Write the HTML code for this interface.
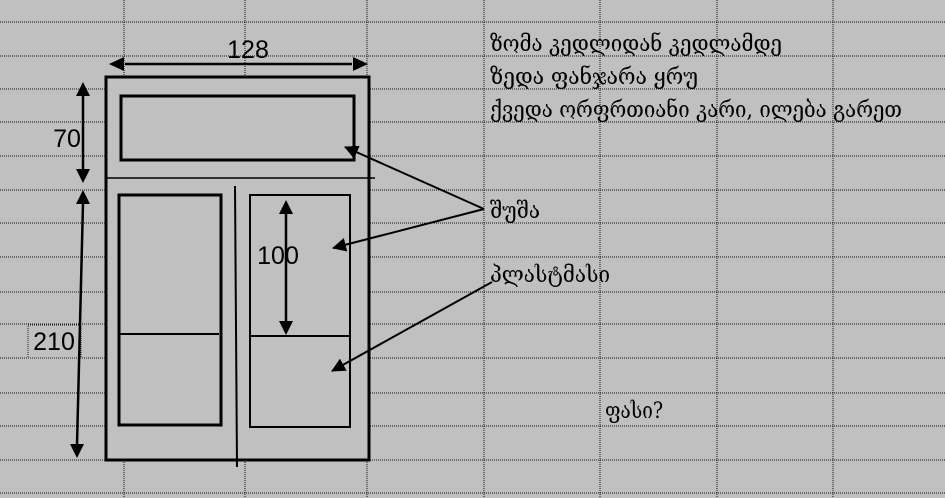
<!DOCTYPE html>
<html><head><meta charset="utf-8"><style>
html,body{margin:0;padding:0;background:#c0c0c0;}
svg{display:block;}
text{font-family:"Liberation Sans","DejaVu Sans",sans-serif;fill:#000;}
.g{font-family:"DejaVu Serif","DejaVu Sans",serif;font-size:22px;}
</style></head><body>
<svg width="945" height="498" viewBox="0 0 945 498" xmlns="http://www.w3.org/2000/svg">
<defs>
<marker id="b" markerWidth="14" markerHeight="14" refX="13" refY="7" orient="auto" markerUnits="userSpaceOnUse" viewBox="0 0 14 14">
<path d="M0,0 L14,7 L0,14 z" fill="#000"/></marker>
</defs>
<rect width="945" height="498" fill="#c0c0c0"/>
<g stroke="#111" stroke-width="1" stroke-dasharray="1,1">
<line x1="0" y1="22" x2="945" y2="22"/>
<line x1="0" y1="56" x2="945" y2="56"/>
<line x1="0" y1="89" x2="945" y2="89"/>
<line x1="0" y1="122" x2="945" y2="122"/>
<line x1="0" y1="156" x2="945" y2="156"/>
<line x1="0" y1="190" x2="945" y2="190"/>
<line x1="0" y1="223" x2="945" y2="223"/>
<line x1="0" y1="257" x2="945" y2="257"/>
<line x1="0" y1="292" x2="945" y2="292"/>
<line x1="0" y1="324" x2="945" y2="324"/>
<line x1="0" y1="358" x2="945" y2="358"/>
<line x1="0" y1="393" x2="945" y2="393"/>
<line x1="0" y1="426" x2="945" y2="426"/>
<line x1="0" y1="460" x2="945" y2="460"/>
<line x1="0" y1="493" x2="945" y2="493"/>
<line x1="124" y1="0" x2="124" y2="498"/>
<line x1="245" y1="0" x2="245" y2="498"/>
<line x1="367" y1="0" x2="367" y2="498"/>
<line x1="484" y1="0" x2="484" y2="498"/>
<line x1="600" y1="0" x2="600" y2="498"/>
<line x1="717" y1="0" x2="717" y2="498"/>
<line x1="833" y1="0" x2="833" y2="498"/>
</g>
<g fill="none" stroke="#000">
<rect x="106" y="77" width="263" height="383" fill="#c0c0c0" stroke-width="3"/>
<rect x="121" y="96" width="233" height="64" stroke-width="3"/>
<line x1="106" y1="178" x2="375" y2="178" stroke-width="1.5"/>
<rect x="119" y="195" width="102" height="230" stroke-width="3"/>
<line x1="119" y1="334" x2="219" y2="334" stroke-width="2"/>
<rect x="250" y="195" width="100" height="232" stroke-width="2"/>
<line x1="250" y1="336" x2="350" y2="336" stroke-width="2"/>
<line x1="235" y1="186" x2="237" y2="467" stroke-width="2"/>
</g>
<g stroke="#000" stroke-width="2.5" fill="none">
<line x1="125" y1="64" x2="352" y2="64"/>
<path d="M109,64 L124,57 L124,71 z M368,64 L353,57 L353,71 z" fill="#000" stroke="none"/>
<line x1="83" y1="96" x2="83" y2="170"/>
<path d="M83,82 L76,96 L90,96 z M83,183 L76,169 L90,169 z" fill="#000" stroke="none"/>
<line x1="83" y1="203" x2="77" y2="445"/>
<path d="M83,190 L76,204 L90,204 z M77,458 L70,444 L84,444 z" fill="#000" stroke="none"/>
<line x1="286" y1="213" x2="286" y2="322"/>
<path d="M286,200 L279,214 L293,214 z M286,335 L279,321 L293,321 z" fill="#000" stroke="none"/>
<line x1="484" y1="209" x2="345" y2="147" stroke-width="2" marker-end="url(#b)"/>
<line x1="484" y1="209" x2="333" y2="248" stroke-width="2" marker-end="url(#b)"/>
<line x1="492" y1="282" x2="332" y2="371" stroke-width="2" marker-end="url(#b)"/>
</g>
<rect x="28" y="325" width="53" height="33" fill="none" stroke="#222" stroke-dasharray="1,1"/>
<text x="248" y="58" font-size="25" text-anchor="middle">128</text>
<text x="67" y="147" font-size="25" text-anchor="middle">70</text>
<text x="54" y="350" font-size="25" text-anchor="middle">210</text>
<text x="278" y="264" font-size="25" text-anchor="middle">100</text>
<text class="g" x="490" y="51" textLength="292" lengthAdjust="spacingAndGlyphs">ზომა კედლიდან კედლამდე</text>
<text class="g" x="490" y="84" textLength="208" lengthAdjust="spacingAndGlyphs">ზედა ფანჯარა ყრუ</text>
<text class="g" x="490" y="117" textLength="412" lengthAdjust="spacingAndGlyphs">ქვედა ორფრთიანი კარი, ილება გარეთ</text>
<text class="g" x="490" y="218" textLength="50" lengthAdjust="spacingAndGlyphs">შუშა</text>
<text class="g" x="490" y="282" textLength="120" lengthAdjust="spacingAndGlyphs">პლასტმასი</text>
<text class="g" x="605" y="418" textLength="58" lengthAdjust="spacingAndGlyphs">ფასი?</text>
</svg>
</body></html>
